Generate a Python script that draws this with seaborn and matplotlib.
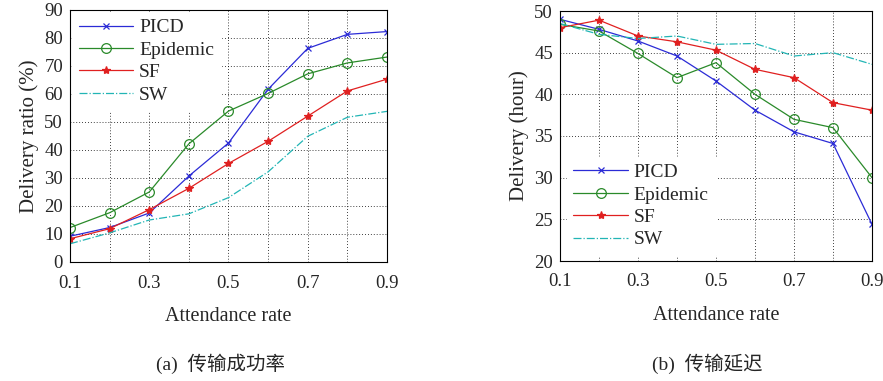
import numpy as np
import pandas as pd
import matplotlib
matplotlib.use("Agg")
import matplotlib.pyplot as plt
import seaborn as sns

# data
rates = [0.1, 0.2, 0.3, 0.4, 0.5, 0.6, 0.7, 0.8, 0.9]
tick_labels = ['0.1', '', '0.3', '', '0.5', '', '0.7', '', '0.9']
methods = ['PICD', 'Epidemic', 'SF', 'SW']

ratio_picd = [9.2, 12.3, 17.5, 30.7, 42.5, 61.7, 76.3, 81.3, 82.3]
ratio_epidemic = [12.3, 17.6, 25.0, 42.2, 53.9, 60.2, 67.2, 71.1, 73.2]
ratio_sf = [8.3, 11.9, 18.7, 26.3, 35.2, 43.1, 52.1, 61.1, 65.3]
ratio_sw = [6.5, 10.4, 15.0, 17.2, 23.0, 32.2, 44.9, 51.7, 53.8]

delay_picd = [49.0, 47.8, 46.4, 44.6, 41.6, 38.1, 35.5, 34.1, 24.4]
delay_epidemic = [48.4, 47.6, 44.9, 42.0, 43.8, 40.0, 37.0, 36.0, 30.0]
delay_sf = [48.0, 48.9, 47.0, 46.3, 45.3, 43.0, 42.0, 39.0, 38.1]
delay_sw = [48.5, 47.2, 46.7, 47.0, 46.0, 46.1, 44.6, 45.0, 43.6]

sns.set_style("white")
plt.rcParams['font.family'] = ['Liberation Serif', 'Noto Sans CJK SC']

# seaborn's lineplot gives markers a white edge by default, so set mec each time
styles = {
    'PICD': dict(color='#2b2bd6', marker='x', markersize=4, markerfacecolor='#2b2bd6',
                 markeredgecolor='#2b2bd6', linestyle='-'),
    'Epidemic': dict(color='#2a8a2a', marker='o', markersize=7, markerfacecolor='none',
                     markeredgecolor='#2a8a2a', linestyle='-'),
    'SF': dict(color='#e02020', marker='*', markersize=6, markerfacecolor='#e02020',
               markeredgecolor='#e02020', linestyle='-'),
    'SW': dict(color='#22b5b5', marker='', linestyle='-.'),
}


def draw(ax, series, ylim, yticks, ylabel, legend_loc, legend_anchor):
    for name, vals in zip(methods, series):
        df = pd.DataFrame({'rate': rates, 'value': vals})
        st = dict(styles[name])
        ls = st.pop('linestyle')
        sns.lineplot(data=df, x='rate', y='value', ax=ax, label=name,
                     linestyle=ls, lw=0.9, markeredgewidth=0.9, **st)
    ax.set_xlim(0.1, 0.9)
    ax.set_ylim(*ylim)
    ax.set_xticks(rates)
    ax.set_xticklabels(tick_labels, fontsize=13.5)
    ax.set_yticks(yticks)
    ax.set_yticklabels([str(v) for v in yticks], fontsize=13.5)
    ax.tick_params(axis='x', direction='in', length=3, width=0.8, pad=9)
    ax.tick_params(axis='y', direction='in', length=3, width=0.8, pad=5)
    ax.grid(True, color='black', linestyle=(0, (1, 2.5)), linewidth=0.6)
    for sp in ax.spines.values():
        sp.set_color('black')
        sp.set_linewidth(0.8)
    ax.set_xlabel('Attendance rate', fontsize=14.5, labelpad=11)
    ax.set_ylabel(ylabel, fontsize=15, labelpad=4)
    leg = ax.legend(loc=legend_loc, bbox_to_anchor=legend_anchor, fontsize=14,
                    frameon=True, fancybox=False, framealpha=1, edgecolor='white',
                    handlelength=2.8, handletextpad=0.3, labelspacing=0.25,
                    borderpad=0.35, borderaxespad=0.1)
    leg.set_zorder(5)


fig = plt.figure(figsize=(8.83, 3.81), dpi=100)
ax1 = fig.add_axes([70 / 883, 1 - 262 / 381, 317 / 883, 252 / 381])
ax2 = fig.add_axes([560 / 883, 1 - 261 / 381, 312 / 883, 250 / 381])

draw(ax1, [ratio_picd, ratio_epidemic, ratio_sf, ratio_sw], (0, 90),
     list(range(0, 91, 10)), 'Delivery ratio (%)', 'upper left', (0.0, 1.0))
draw(ax2, [delay_picd, delay_epidemic, delay_sf, delay_sw], (20, 50),
     list(range(20, 51, 5)), 'Delivery (hour)', 'lower left', (0.015, 0.015))

fig.text(221 / 883, 1 - 364 / 381, '(a)  传输成功率', ha='center', va='center', fontsize=14)
fig.text(707 / 883, 1 - 364 / 381, '(b)  传输延迟', ha='center', va='center', fontsize=14)

fig.savefig('out.png', dpi=100)
